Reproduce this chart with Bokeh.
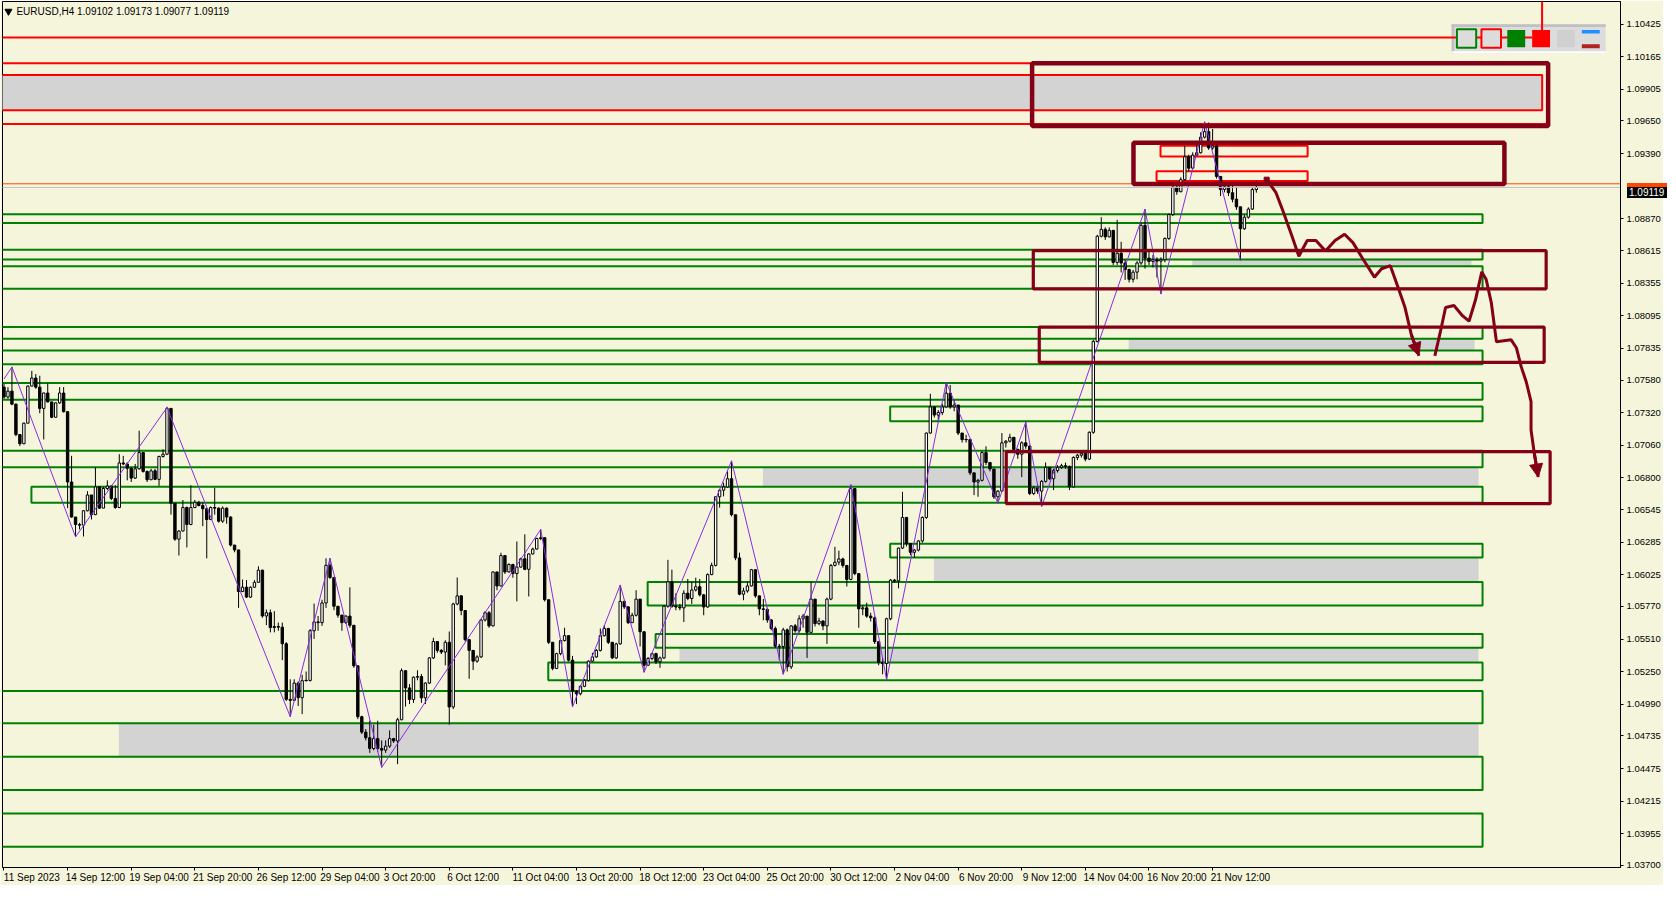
from bokeh.plotting import figure
from bokeh.models import (Range1d, FixedTicker, PrintfTickFormatter, Arrow,
                          NormalHead, ColumnDataSource, Div)
from bokeh.layouts import column
from bokeh.core.properties import value
from bokeh.embed import file_html
from bokeh.resources import INLINE

# ---------------- data ----------------
symbol = "EURUSD,H4"
first_open = 1.07523

closes = [
    1.07444, 1.07491, 1.07387, 1.07144, 1.07071, 1.07235, 1.07531, 1.07596, 1.07523, 1.07353,
    1.07476, 1.07405, 1.07282, 1.07397, 1.07476, 1.07327, 1.06765, 1.06485, 1.06425, 1.06420,
    1.06535, 1.06661, 1.06504, 1.06726, 1.06556, 1.06713, 1.06733, 1.06634, 1.06561, 1.06917,
    1.06909, 1.06875, 1.06796, 1.06870, 1.07000, 1.06849, 1.06783, 1.06854, 1.06786, 1.06969,
    1.06987, 1.07353, 1.06595, 1.06308, 1.06373, 1.06561, 1.06425, 1.06561, 1.06603, 1.06577,
    1.06551, 1.06465, 1.06561, 1.06556, 1.06452, 1.06556, 1.06485, 1.06261, 1.06222, 1.05890,
    1.05924, 1.05845, 1.05924, 1.05963, 1.06060, 1.05694, 1.05720, 1.05602, 1.05610, 1.05605,
    1.05472, 1.05028, 1.05020, 1.05158, 1.05041, 1.05177, 1.05179, 1.05576, 1.05647, 1.05641,
    1.05798, 1.06099, 1.06002, 1.05772, 1.05701, 1.05641, 1.05693, 1.05620, 1.05296, 1.04889,
    1.04766, 1.04721, 1.04635, 1.04714, 1.04635, 1.04622, 1.04654, 1.04714, 1.04695, 1.04865,
    1.05257, 1.05119, 1.05027, 1.05205, 1.05210, 1.05040, 1.05158, 1.05359, 1.05490, 1.05419,
    1.05406, 1.05484, 1.04967, 1.05790, 1.05855, 1.05738, 1.05505, 1.05419, 1.05333, 1.05367,
    1.05662, 1.05720, 1.05615, 1.06046, 1.05934, 1.06177, 1.06046, 1.06106, 1.06033, 1.06085,
    1.06151, 1.06067, 1.06190, 1.06229, 1.06313, 1.06320, 1.05824, 1.05484, 1.05275, 1.05393,
    1.05498, 1.05537, 1.05341, 1.05093, 1.05072, 1.05132, 1.05179, 1.05333, 1.05367, 1.05419,
    1.05537, 1.05594, 1.05484, 1.05359, 1.05471, 1.05811, 1.05767, 1.05641, 1.05700, 1.05829,
    1.05568, 1.05300, 1.05354, 1.05393, 1.05328, 1.05359, 1.05772, 1.05968, 1.05772, 1.05766,
    1.05759, 1.05876, 1.05834, 1.05902, 1.05928, 1.05863, 1.05766, 1.06025, 1.06098, 1.06647,
    1.06699, 1.06725, 1.06791, 1.06503, 1.06158, 1.05868, 1.05894, 1.05934, 1.06064, 1.05855,
    1.05751, 1.05746, 1.05662, 1.05594, 1.05453, 1.05450, 1.05583, 1.05288, 1.05615, 1.05576,
    1.05672, 1.05693, 1.05563, 1.05829, 1.05633, 1.05654, 1.05615, 1.05829, 1.06098, 1.06124,
    1.06150, 1.06098, 1.05986, 1.06712, 1.06033, 1.05751, 1.05759, 1.05693, 1.05680, 1.05489,
    1.05322, 1.05314, 1.05672, 1.05981, 1.05975, 1.06237, 1.06482, 1.06273, 1.06203, 1.06221,
    1.06294, 1.06482, 1.07156, 1.07365, 1.07300, 1.07320, 1.07365, 1.07475, 1.07365, 1.07380,
    1.07156, 1.07104, 1.07104, 1.06838, 1.06765, 1.06778, 1.07000, 1.06921, 1.06869, 1.06647,
    1.06692, 1.07078, 1.07091, 1.07122, 1.07026, 1.06987, 1.07078, 1.07052, 1.06673, 1.06718,
    1.06692, 1.06770, 1.06882, 1.06791, 1.06856, 1.06882, 1.06895, 1.06890, 1.06726, 1.06961,
    1.06979, 1.06994, 1.06948, 1.07162, 1.07888, 1.08729, 1.08784, 1.08724, 1.08776, 1.08520,
    1.08593, 1.08515, 1.08463, 1.08385, 1.08442, 1.08515, 1.08816, 1.08554, 1.08528, 1.08541,
    1.08530, 1.08541, 1.08711, 1.08902, 1.09121, 1.09085, 1.09181, 1.09364, 1.09273, 1.09377,
    1.09396, 1.09521, 1.09565, 1.09435, 1.09450, 1.09207, 1.09103, 1.09124, 1.09077, 1.09025,
    1.08964, 1.08789, 1.08881, 1.08946, 1.09102, 1.09119,
]

highs = [
    1.07549, 1.07523, 1.07685, 1.07392, 1.07144, 1.07240, 1.07536, 1.07653, 1.07627, 1.07614,
    1.07480, 1.07554, 1.07405, 1.07400, 1.07523, 1.07523, 1.07327, 1.06974, 1.06485, 1.06438,
    1.06540, 1.06692, 1.06661, 1.06883, 1.06726, 1.06726, 1.06778, 1.06740, 1.06739, 1.06987,
    1.06974, 1.06922, 1.06880, 1.06909, 1.07175, 1.07005, 1.06857, 1.06870, 1.06870, 1.06975,
    1.07026, 1.07366, 1.07353, 1.06595, 1.06380, 1.06621, 1.06569, 1.06739, 1.06621, 1.06614,
    1.06603, 1.06555, 1.06569, 1.06718, 1.06561, 1.06569, 1.06561, 1.06491, 1.06261, 1.06222,
    1.05986, 1.05981, 1.05930, 1.05981, 1.06091, 1.06065, 1.05746, 1.05746, 1.05733, 1.05641,
    1.05641, 1.05485, 1.05188, 1.05188, 1.05171, 1.05224, 1.05250, 1.05589, 1.05793, 1.05694,
    1.05824, 1.06155, 1.06156, 1.06002, 1.05772, 1.05701, 1.05700, 1.05923, 1.05620, 1.05296,
    1.04897, 1.04790, 1.04857, 1.04826, 1.04857, 1.04700, 1.04700, 1.04780, 1.04720, 1.04880,
    1.05275, 1.05257, 1.05150, 1.05210, 1.05260, 1.05230, 1.05165, 1.05365, 1.05520, 1.05490,
    1.05430, 1.05500, 1.05570, 1.05800, 1.06002, 1.05860, 1.05738, 1.05505, 1.05419, 1.05380,
    1.05670, 1.05733, 1.05733, 1.06050, 1.06046, 1.06200, 1.06177, 1.06115, 1.06111, 1.06289,
    1.06160, 1.06347, 1.06195, 1.06240, 1.06320, 1.06386, 1.06273, 1.05824, 1.05484, 1.05400,
    1.05500, 1.05600, 1.05537, 1.05375, 1.05100, 1.05140, 1.05190, 1.05340, 1.05400, 1.05430,
    1.05594, 1.05620, 1.05600, 1.05484, 1.05480, 1.05942, 1.05811, 1.05770, 1.05720, 1.05900,
    1.05829, 1.05568, 1.05367, 1.05400, 1.05400, 1.05370, 1.05780, 1.06143, 1.06064, 1.05876,
    1.05790, 1.05900, 1.05990, 1.05970, 1.06000, 1.05990, 1.05870, 1.06035, 1.06120, 1.06650,
    1.06710, 1.06760, 1.06850, 1.06934, 1.06503, 1.06200, 1.05920, 1.05970, 1.06070, 1.06064,
    1.05855, 1.05830, 1.05760, 1.05670, 1.05610, 1.05470, 1.05600, 1.05594, 1.05620, 1.05630,
    1.05700, 1.05710, 1.05693, 1.05968, 1.05829, 1.05680, 1.05660, 1.05840, 1.06110, 1.06247,
    1.06216, 1.06160, 1.06098, 1.06744, 1.06712, 1.06033, 1.05780, 1.05800, 1.05720, 1.05690,
    1.05489, 1.05360, 1.05680, 1.05990, 1.05990, 1.06240, 1.06686, 1.06482, 1.06273, 1.06230,
    1.06300, 1.06490, 1.07160, 1.07470, 1.07365, 1.07340, 1.07390, 1.07561, 1.07540, 1.07420,
    1.07380, 1.07156, 1.07143, 1.07109, 1.06840, 1.06790, 1.07010, 1.07050, 1.06921, 1.06869,
    1.06700, 1.07156, 1.07100, 1.07150, 1.07122, 1.07030, 1.07090, 1.07243, 1.07057, 1.06730,
    1.06740, 1.06780, 1.06921, 1.06882, 1.06870, 1.06900, 1.06910, 1.06920, 1.06895, 1.06970,
    1.06990, 1.07000, 1.07000, 1.07170, 1.07900, 1.08740, 1.08881, 1.08800, 1.08800, 1.08776,
    1.08860, 1.08685, 1.08541, 1.08470, 1.08460, 1.08530, 1.08840, 1.08946, 1.08610, 1.08580,
    1.08560, 1.08560, 1.08720, 1.08910, 1.09130, 1.09130, 1.09200, 1.09450, 1.09380, 1.09400,
    1.09480, 1.09560, 1.09644, 1.09638, 1.09586, 1.09460, 1.09207, 1.09150, 1.09130, 1.09150,
    1.09120, 1.08964, 1.08900, 1.08960, 1.09120, 1.09173,
]

lows = [
    1.07431, 1.07431, 1.07379, 1.07131, 1.07052, 1.07066, 1.07235, 1.07531, 1.07510, 1.07314,
    1.07105, 1.07400, 1.07275, 1.07282, 1.07390, 1.07320, 1.06556, 1.06480, 1.06326, 1.06386,
    1.06329, 1.06530, 1.06465, 1.06500, 1.06550, 1.06582, 1.06700, 1.06620, 1.06550, 1.06556,
    1.06900, 1.06778, 1.06765, 1.06790, 1.06865, 1.06840, 1.06765, 1.06780, 1.06780, 1.06734,
    1.06960, 1.06980, 1.06504, 1.06295, 1.06177, 1.06370, 1.06242, 1.06420, 1.06555, 1.06570,
    1.06412, 1.06155, 1.06460, 1.06504, 1.06440, 1.06438, 1.06431, 1.06250, 1.06203, 1.05759,
    1.05885, 1.05838, 1.05838, 1.05920, 1.05960, 1.05680, 1.05621, 1.05563, 1.05563, 1.05576,
    1.05341, 1.05015, 1.04889, 1.05015, 1.04975, 1.04910, 1.05171, 1.05170, 1.05511, 1.05576,
    1.05615, 1.05759, 1.05990, 1.05740, 1.05680, 1.05576, 1.05630, 1.05600, 1.05280, 1.04870,
    1.04750, 1.04700, 1.04600, 1.04620, 1.04610, 1.04484, 1.04600, 1.04640, 1.04680, 1.04510,
    1.04860, 1.04970, 1.04990, 1.05000, 1.05180, 1.05000, 1.04990, 1.05150, 1.05350, 1.05400,
    1.05390, 1.05300, 1.04826, 1.04950, 1.05780, 1.05700, 1.05490, 1.05192, 1.05262, 1.05320,
    1.05359, 1.05650, 1.05600, 1.05610, 1.05900, 1.05930, 1.06030, 1.06040, 1.06000, 1.05811,
    1.06080, 1.06060, 1.05850, 1.06185, 1.06225, 1.06300, 1.05810, 1.05470, 1.05260, 1.05270,
    1.05380, 1.05490, 1.05330, 1.04967, 1.04990, 1.05060, 1.05125, 1.05170, 1.05330, 1.05360,
    1.05410, 1.05530, 1.05470, 1.05350, 1.05350, 1.05465, 1.05750, 1.05630, 1.05641, 1.05690,
    1.05450, 1.05244, 1.05307, 1.05340, 1.05310, 1.05280, 1.05350, 1.05760, 1.05760, 1.05740,
    1.05740, 1.05646, 1.05820, 1.05790, 1.05890, 1.05850, 1.05700, 1.05760, 1.06020, 1.06090,
    1.06560, 1.06650, 1.06720, 1.06490, 1.06140, 1.05860, 1.05820, 1.05880, 1.05930, 1.05840,
    1.05700, 1.05660, 1.05640, 1.05580, 1.05440, 1.05341, 1.05228, 1.05250, 1.05270, 1.05560,
    1.05560, 1.05600, 1.05359, 1.05560, 1.05610, 1.05620, 1.05580, 1.05471, 1.05820, 1.06090,
    1.06100, 1.06080, 1.05930, 1.05980, 1.06020, 1.05600, 1.05700, 1.05680, 1.05650, 1.05470,
    1.05300, 1.05228, 1.05184, 1.05660, 1.05960, 1.05915, 1.06230, 1.06250, 1.06180, 1.06158,
    1.06210, 1.06280, 1.06470, 1.07150, 1.07280, 1.07248, 1.07300, 1.07360, 1.07350, 1.07330,
    1.07140, 1.07080, 1.07080, 1.06820, 1.06660, 1.06647, 1.06770, 1.06900, 1.06850, 1.06630,
    1.06595, 1.06690, 1.07040, 1.07080, 1.07000, 1.06950, 1.06804, 1.07030, 1.06660, 1.06660,
    1.06670, 1.06569, 1.06760, 1.06780, 1.06700, 1.06840, 1.06870, 1.06870, 1.06700, 1.06720,
    1.06940, 1.06960, 1.06930, 1.06940, 1.07150, 1.07880, 1.08720, 1.08700, 1.08720, 1.08500,
    1.08500, 1.08440, 1.08380, 1.08360, 1.08360, 1.08385, 1.08500, 1.08470, 1.08500, 1.08480,
    1.08400, 1.08267, 1.08520, 1.08700, 1.08890, 1.09060, 1.09080, 1.09170, 1.09250, 1.09270,
    1.09370, 1.09390, 1.09510, 1.09420, 1.09420, 1.09190, 1.09050, 1.09080, 1.09050, 1.09000,
    1.08940, 1.08536, 1.08780, 1.08870, 1.08940, 1.09077,
]

time_labels = ["11 Sep 2023", "14 Sep 12:00", "19 Sep 04:00", "21 Sep 20:00", "26 Sep 12:00",
               "29 Sep 04:00", "3 Oct 20:00", "6 Oct 12:00", "11 Oct 04:00", "13 Oct 20:00",
               "18 Oct 12:00", "23 Oct 04:00", "25 Oct 20:00", "30 Oct 12:00", "2 Nov 04:00",
               "6 Nov 20:00", "9 Nov 12:00", "14 Nov 04:00", "16 Nov 20:00", "21 Nov 12:00"]
bars_per_label = 16

price_ticks = [1.10425, 1.10165, 1.09905, 1.09650, 1.09390, 1.08870, 1.08615, 1.08355,
               1.08095, 1.07835, 1.07580, 1.07320, 1.07060, 1.06800, 1.06545, 1.06285,
               1.06025, 1.05770, 1.05510, 1.05250, 1.04990, 1.04735, 1.04475, 1.04215,
               1.03955, 1.03700]

bid_price = 1.09119
ask_price = 1.09148

zigzag_bars = [0, 2, 18, 41, 72, 82, 95, 135, 143, 155, 161, 183, 196, 213, 222, 237,
               250, 257, 261, 287, 291, 302, 311]
zigzag_prices = [1.07588, 1.07684, 1.06326, 1.07360, 1.04889, 1.06156, 1.04484, 1.06386,
                 1.04967, 1.05942, 1.05244, 1.06934, 1.05228, 1.06744, 1.05184, 1.07561,
                 1.06595, 1.07243, 1.06569, 1.08946, 1.08267, 1.09644, 1.08536]

# green zone rectangles (price top / bottom, start / end bar)
green_top = [1.08904, 1.08622, 1.08489, 1.08003, 1.07815, 1.07556, 1.07368, 1.07015,
             1.06726, 1.06271, 1.05965, 1.05550, 1.05322, 1.05095, 1.04570, 1.04115]
green_bottom = [1.08834, 1.08544, 1.08309, 1.07909, 1.07705, 1.07423, 1.07251, 1.06882,
                1.06600, 1.06161, 1.05777, 1.05440, 1.05181, 1.04837, 1.04304, 1.03849]
green_start = [-2, -2, -2, -2, -2, -2, 222.9, -2, 6.9, 222.9, 161.9, 163.9, 136.9, -2, -2, -2]
green_end = [371.9] * 16

# grey filled zones
grey_top = [1.08544, 1.07909, 1.06882, 1.06161, 1.05440, 1.04837]
grey_bottom = [1.08489, 1.07815, 1.06726, 1.05965, 1.05322, 1.04570]
grey_start = [298.9, 282.9, 190.9, 233.9, 169.9, 28.9]
grey_end = [369.1, 369.9, 370.9, 370.9, 370.9, 370.9]

# red resistance objects
red_line_price = 1.10318
red_zone = dict(top=1.10017, bottom=1.09735, start=-2, end=386.9)
red_box_top = [1.10111, 1.09453, 1.09249]
red_box_bottom = [1.09626, 1.09367, 1.09171]
red_box_start = [-2, 290.9, 289.9]
red_box_end = [388.4, 327.9, 327.9]

# maroon (hand drawn) boxes
m_top = [1.10111, 1.09477, 1.08614, 1.08003, 1.07008]
m_bottom = [1.09610, 1.09147, 1.08309, 1.07721, 1.06592]
m_start = [258.6, 284.1, 258.9, 260.4, 252.1]
m_end = [388.4, 377.4, 387.9, 387.4, 388.9]
m_width = [4.5, 4.5, 3.2, 3.2, 3.2]

# forecast path (two strokes)
path1_bars = [317.6, 319.9, 321.7, 323.8, 325.7, 327.8, 330.0, 332.4, 334.8, 337.2, 339.3,
              341.7, 344.7, 346.5, 348.7, 350.6, 352.4, 354.0, 355.9]
path1_prices = [1.09181, 1.09080, 1.08930, 1.08745, 1.08569, 1.08695, 1.08695, 1.08611,
                1.08695, 1.08745, 1.08678, 1.08553, 1.08402, 1.08469, 1.08494, 1.08326,
                1.08159, 1.07941, 1.07773]
path2_bars = [359.9, 361.3, 362.6, 364.7, 366.9, 368.5, 370.1, 371.7, 372.8, 374.1, 375.4,
              379.1, 380.4, 381.6, 382.9, 384.1, 384.1, 384.9, 385.9]
path2_prices = [1.07773, 1.07966, 1.08159, 1.08175, 1.08092, 1.08050, 1.08217, 1.08444,
                1.08385, 1.08199, 1.07885, 1.07901, 1.07838, 1.07689, 1.07564, 1.07407,
                1.07180, 1.06999, 1.06804]

# ---------------- styling ----------------
BG = "#F5F5DC"
GREEN = "#008000"
MAROON = "#840017"
FONT = "Liberation Sans"

FRAME_W, FRAME_H = 1618, 866
BORDER_L, BORDER_T = 2, 1
X0, X1 = -0.375, 406.6
Y0, Y1 = 1.03684, 1.10605

# helpers for screen-fixed decorations (reference chart pixel grid -> data)
def bx(px):
    return (px - 3.5) / 4.0

def py(px):
    return 1.10425 - (px - 23.0) * 7.838e-5

p = figure(frame_width=FRAME_W, frame_height=FRAME_H,
           x_range=Range1d(X0, X1), y_range=Range1d(Y0, Y1),
           output_backend="svg", toolbar_location=None,
           x_axis_location="below", y_axis_location="right",
           background_fill_color=BG, border_fill_color=BG,
           min_border_left=BORDER_L, min_border_top=BORDER_T, min_border_right=10,
           min_border_bottom=10)
p.grid.visible = False
p.outline_line_color = "black"
p.outline_line_width = 1

# grey zones
p.quad(left=grey_start, right=grey_end, top=grey_top, bottom=grey_bottom,
       fill_color="#D3D3D3", line_color=None)
# red zone (grey filled)
p.quad(left=[red_zone["start"]], right=[red_zone["end"]], top=[red_zone["top"]],
       bottom=[red_zone["bottom"]], fill_color="#D3D3D3", line_color="red", line_width=2)
# green zones
p.quad(left=green_start, right=green_end, top=green_top, bottom=green_bottom,
       fill_color=None, line_color=GREEN, line_width=2)
# red boxes
p.quad(left=red_box_start, right=red_box_end, top=red_box_top, bottom=red_box_bottom,
       fill_color=None, line_color="red", line_width=2)

# candles
n = len(closes)
opens = [first_open] + closes[:-1]
xs = list(range(n))
hi = [max(h, o, c) for h, o, c in zip(highs, opens, closes)]
lo = [min(l, o, c) for l, o, c in zip(lows, opens, closes)]
src = ColumnDataSource(dict(
    x=xs, h=hi, l=lo,
    top=[max(o, c) for o, c in zip(opens, closes)],
    bottom=[min(o, c) for o, c in zip(opens, closes)],
    fill=["white" if c >= o else "black" for o, c in zip(opens, closes)],
))
p.segment(x0="x", y0="l", x1="x", y1="h", line_color="black", line_width=1, source=src)
p.vbar(x="x", top="top", bottom="bottom", width=0.6, fill_color="fill",
       line_color="black", line_width=1, source=src)
doji = [i for i in xs if abs(closes[i] - opens[i]) < 0.00002]
p.segment(x0=[i - 0.38 for i in doji], x1=[i + 0.38 for i in doji],
          y0=[closes[i] for i in doji], y1=[closes[i] for i in doji],
          line_color="black", line_width=1)

# zigzag
p.line(zigzag_bars, zigzag_prices, line_color="#8A2BE2", line_width=1)

# bid / ask lines
p.segment(x0=[X0 - 1], x1=[X1 + 1], y0=[ask_price], y1=[ask_price],
          line_color="#FF4500", line_width=1)
p.segment(x0=[X0 - 1], x1=[X1 + 1], y0=[bid_price], y1=[bid_price],
          line_color="#C0C0C0", line_width=1)

# maroon boxes
for l, r, t, b, w in zip(m_start, m_end, m_top, m_bottom, m_width):
    p.quad(left=[l], right=[r], top=[t], bottom=[b], fill_color=None,
           line_color=MAROON, line_width=w)

# forecast path
p.line(path1_bars, path1_prices, line_color=MAROON, line_width=3)
p.line(path2_bars, path2_prices, line_color=MAROON, line_width=3)
p.scatter([path1_bars[0]], [path1_prices[0]], marker="square", size=5,
          fill_color=MAROON, line_color=MAROON)
for bx_, by_ in ((path1_bars, path1_prices), (path2_bars, path2_prices)):
    p.add_layout(Arrow(end=NormalHead(size=13, fill_color=MAROON, line_color=MAROON),
                       x_start=bx_[-2], y_start=by_[-2], x_end=bx_[-1], y_end=by_[-1],
                       line_color=MAROON, line_width=3))

# control panel (top right)
p.quad(left=[bx(1460)], right=[bx(1615)], top=[py(23.3)], bottom=[py(52.7)],
       fill_color="#DCDCDC", line_color=None)
p.quad(left=[bx(1460)], right=[bx(1615)], top=[py(23.3)], bottom=[py(26)],
       fill_color="#C0C0C0", line_color=None)
p.quad(left=[bx(1460)], right=[bx(1462.7)], top=[py(23.3)], bottom=[py(52.7)],
       fill_color="#C0C0C0", line_color=None)
p.quad(left=[bx(1460)], right=[bx(1615)], top=[py(50.7)], bottom=[py(52.7)],
       fill_color="white", line_color=None)
# red resistance line (runs into the panel)
p.segment(x0=[X0 - 1], x1=[bx(1541)], y0=[red_line_price], y1=[red_line_price],
          line_color="red", line_width=2)
p.segment(x0=[bx(1551)], x1=[bx(1551)], y0=[Y1 + 0.001], y1=[py(29)],
          line_color="red", line_width=2)
p.quad(left=[bx(1465.3)], right=[bx(1484.7)], top=[py(28.3)], bottom=[py(47.3)],
       fill_color="#DCDCDC", line_color=GREEN, line_width=2)
p.quad(left=[bx(1490)], right=[bx(1509.7)], top=[py(28.3)], bottom=[py(47.3)],
       fill_color="#DCDCDC", line_color="red", line_width=2)
p.quad(left=[bx(1516)], right=[bx(1534)], top=[py(29)], bottom=[py(46.7)],
       fill_color=GREEN, line_color=None)
p.quad(left=[bx(1541)], right=[bx(1559)], top=[py(29)], bottom=[py(46.7)],
       fill_color="red", line_color=None)
p.quad(left=[bx(1566)], right=[bx(1584)], top=[py(29)], bottom=[py(46.7)],
       fill_color="#D0D0D0", line_color=None)
p.quad(left=[bx(1591)], right=[bx(1609)], top=[py(29)], bottom=[py(32.7)],
       fill_color="#1E90FF", line_color=None)
p.quad(left=[bx(1591)], right=[bx(1609)], top=[py(43.7)], bottom=[py(47.7)],
       fill_color="#B22222", line_color=None)

# title (symbol + last bar OHLC)
title = f"{symbol}  {opens[-1]:.5f} {hi[-1]:.5f} {lo[-1]:.5f} {closes[-1]:.5f}"
p.scatter([bx(8)], [py(10)], marker="inverted_triangle", size=7,
          fill_color="black", line_color="black")
p.text(x=[bx(16)], y=[py(10)], text=[title], text_font=value(FONT),
       text_font_size=value("10px"), text_color="black", text_baseline="middle",
       text_align="left")

# ---------------- axes ----------------
yax = p.yaxis[0]
yax.ticker = FixedTicker(ticks=price_ticks)
yax.formatter = PrintfTickFormatter(format="%.5f")
yax.major_label_text_font = FONT
yax.major_label_text_font_size = "9.5px"
yax.major_label_text_color = "black"
yax.major_tick_out = 3
yax.major_tick_in = 0
yax.minor_tick_line_color = None
yax.axis_line_color = "black"
yax.major_label_standoff = 3

CHAR_W = {c: 5.56 for c in "0123456789"}
CHAR_W.update({" ": 2.78, ":": 2.78, "S": 6.67, "e": 5.56, "p": 5.56, "O": 7.78,
               "c": 5.0, "t": 2.78, "N": 7.22, "o": 5.56, "v": 5.0})

def text_w(s):
    return sum(CHAR_W.get(ch, 5.56) for ch in s)

px_per_bar = FRAME_W / (X1 - X0)
label_bars = [k * bars_per_label for k in range(len(time_labels))]
centers = [int(round(b + (text_w(t) / 2 - 1.0) / px_per_bar)) for b, t in zip(label_bars, time_labels)]
xax = p.xaxis[0]
xax.ticker = FixedTicker(ticks=centers, minor_ticks=label_bars)
xax.major_label_overrides = {c: t for c, t in zip(centers, time_labels)}
xax.major_label_text_font = FONT
xax.major_label_text_font_size = "10px"
xax.major_label_text_color = "black"
xax.major_tick_line_color = None
xax.major_tick_out = 3
xax.major_tick_in = 0
xax.minor_tick_line_color = "black"
xax.minor_tick_out = 3
xax.minor_tick_in = 0
xax.axis_line_color = "black"
xax.major_label_standoff = 1

# price tags sitting on the price scale (outside the plot frame)
def tag_top(price):
    return BORDER_T + FRAME_H * (Y1 - price) / (Y1 - Y0) - 5.5

tag_left = BORDER_L + FRAME_W + 2
bid_top = tag_top(bid_price - 0.00004)

ask_tag = Div(text="", width=40, height=4,
              styles={"position": "absolute", "left": f"{tag_left:.0f}px",
                      "top": f"{bid_top - 4:.0f}px", "background-color": "#FF4500"})
bid_tag = Div(text=f"{bid_price:.5f}", width=40, height=11,
              styles={"position": "absolute", "left": f"{tag_left:.0f}px",
                      "top": f"{bid_top:.0f}px", "background-color": "black",
                      "color": "white", "font-family": FONT, "font-size": "10px",
                      "line-height": "11px", "padding-left": "2px",
                      "overflow": "hidden", "white-space": "nowrap"})

root = column(p, ask_tag, bid_tag, spacing=0, styles={"position": "relative"})

open("out.html", "w").write(file_html(root, INLINE))
